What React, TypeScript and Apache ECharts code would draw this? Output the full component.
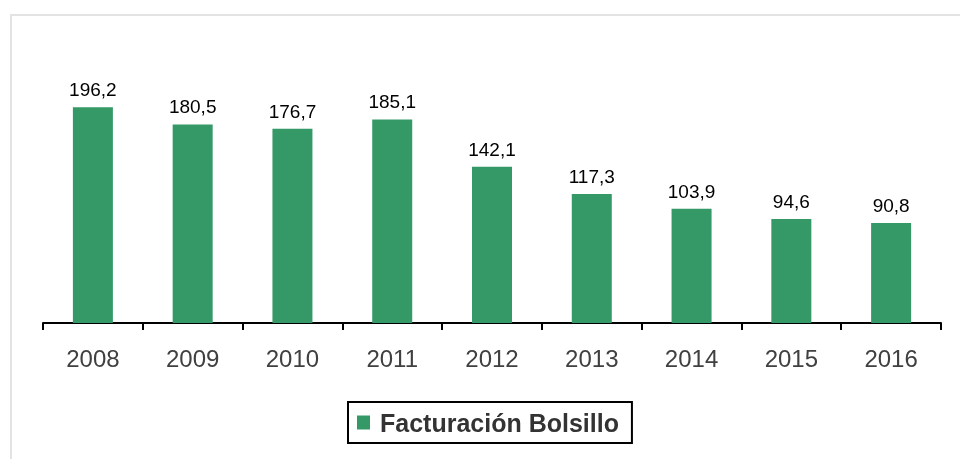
import React, { useEffect, useRef } from "react";
import * as echarts from "echarts";

const categories = ["2008", "2009", "2010", "2011", "2012", "2013", "2014", "2015", "2016"];
const facturacion = [196.2, 180.5, 176.7, 185.1, 142.1, 117.3, 103.9, 94.6, 90.8];
const seriesName = "Facturación Bolsillo";

export default function App() {
  const ref = useRef<HTMLDivElement>(null);
  useEffect(() => {
    if (!ref.current) return;
    const chart = echarts.init(ref.current, undefined, { renderer: "svg" });
    chart.setOption({
      animation: false,
      textStyle: { fontFamily: "Liberation Sans, Arial, sans-serif" },
      graphic: [
        {
          type: "rect",
          shape: { x: 11, y: 15, width: 960, height: 460 },
          style: { fill: "none", stroke: "#e3e3e3", lineWidth: 2 },
          silent: true,
        },
      ],
      grid: { left: 43, right: 19, top: 103, bottom: 136 },
      xAxis: {
        type: "category",
        data: categories,
        axisLine: { lineStyle: { color: "#000", width: 2 } },
        axisTick: { show: true, length: 7, lineStyle: { color: "#000", width: 2 }, alignWithLabel: false },
        axisLabel: { fontSize: 24, color: "#404040", margin: 23 },
      },
      yAxis: {
        type: "value",
        min: 0,
        max: 200,
        show: false,
        splitLine: { show: false },
      },
      legend: {
        top: 402,
        left: 348,
        data: [seriesName],
        icon: "rect",
        itemWidth: 13,
        itemHeight: 14,
        itemGap: 10,
        borderColor: "#000",
        borderWidth: 2,
        padding: [8, 13, 8, 9],
        textStyle: { fontSize: 25, fontWeight: "bold", color: "#333", padding: [0, 0, 0, 5] },
      },
      series: [
        {
          name: seriesName,
          type: "bar",
          data: facturacion,
          barWidth: 40,
          itemStyle: { color: "#349967" },
          label: {
            show: true,
            position: "top",
            distance: 8,
            fontSize: 19,
            color: "#000",
            formatter: (p: any) => p.value.toFixed(1).replace(".", ","),
          },
        },
      ],
    });
    return () => chart.dispose();
  }, []);
  return <div ref={ref} style={{ position: "fixed", left: 0, top: 0, width: 960, height: 459 }} />;
}
